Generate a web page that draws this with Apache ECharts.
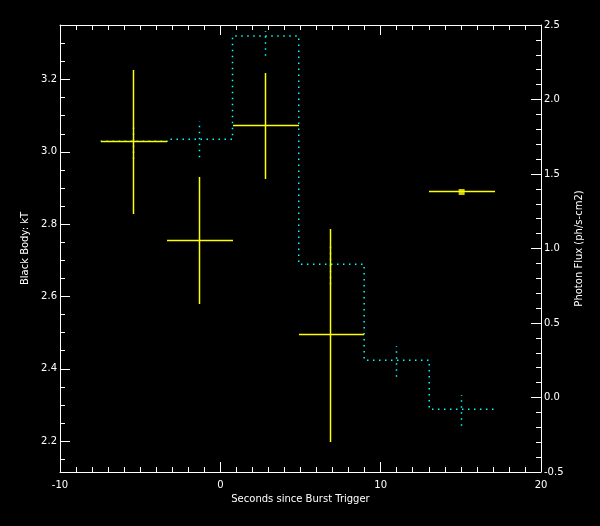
<!DOCTYPE html>
<html>
<head>
<meta charset="utf-8">
<script src="https://cdn.jsdelivr.net/npm/echarts@6/dist/echarts.min.js"></script>
<style>
html,body{margin:0;padding:0;background:#000;}
#chart{width:600px;height:526px;}
</style>
</head>
<body>
<div id="chart"></div>
<script>
// Time bins (seconds since burst trigger)
const binLo = [-7.47, -3.30, 0.76, 4.89, 8.97, 13.03];
const binHi = [-3.30, 0.76, 4.89, 8.97, 13.03, 17.14];
const binCenter = [-5.39, -1.30, 2.80, 6.86, 11.00, 15.05];

// Black body kT (left axis): per bin; null = not measured
const kT      = [3.029, 2.754, 3.072, 2.494, null, 2.889];
const kTLow   = [2.827, 2.578, 2.924, 2.199, null, 2.889];
const kTHigh  = [3.226, 2.931, 3.218, 2.787, null, 2.889];
const kTSquareIndex = [5];

// Photon flux (right axis)
const flux     = [1.719, 1.733, 2.426, 0.894, 0.250, -0.079];
const fluxLow  = [1.600, 1.613, 2.294, 0.760, 0.140, -0.189];
const fluxHigh = [1.840, 1.856, 2.460, 1.030, 0.346, 0.017];

// Tick values
const xTicks = [-10, 0, 10, 20];
const kTTicks = [2.2, 2.4, 2.6, 2.8, 3.0, 3.2];
const kTMinorTicks = [2.15, 2.25, 2.3, 2.35, 2.45, 2.5, 2.55, 2.65, 2.7, 2.75, 2.85, 2.9, 2.95, 3.05, 3.1, 3.15, 3.25, 3.3, 3.35];
const fluxTicks = [-0.5, 0.0, 0.5, 1.0, 1.5, 2.0, 2.5];

const FONT = 'DejaVu Sans';
const WHITE = '#ffffff';
const YELLOW = '#ffff00';
const CYAN = '#00ffff';

// build data
const kTData = [];
const kTSquares = [];
binCenter.forEach((c, i) => {
  if (kT[i] !== null) {
    kTData.push([c, kT[i], binLo[i], binHi[i], kTLow[i], kTHigh[i]]);
  }
});
kTSquareIndex.forEach(i => kTSquares.push([binCenter[i], kT[i]]));

const stepData = binLo.map((x, i) => [x, flux[i]]);
stepData.push([binHi[binHi.length - 1], flux[flux.length - 1]]);

const fluxErrData = binCenter.map((c, i) => [c, flux[i], fluxLow[i], fluxHigh[i]]);

const chart = echarts.init(document.getElementById('chart'), null, {renderer: 'canvas'});

const axisLineStyle = {show: true, onZero: false, lineStyle: {color: WHITE, width: 1}};
const labelStyle = {color: WHITE, fontFamily: FONT, fontSize: 10};
const crisp = v => Math.round(v - 0.5) + 0.5;

const option = {
  backgroundColor: '#000000',
  animation: false,
  grid: {left: 60, right: 59, top: 25, bottom: 54, show: false},
  xAxis: [
    {
      type: 'value', position: 'bottom', min: -10, max: 20, interval: 10,
      axisLine: axisLineStyle,
      axisTick: {show: true, inside: true, length: 10, lineStyle: {color: WHITE}},
      minorTick: {show: true, splitNumber: 10, length: 5, lineStyle: {color: WHITE}},
      axisLabel: Object.assign({margin: 8, formatter: v => String(v)}, labelStyle),
      splitLine: {show: false},
      name: 'Seconds since Burst Trigger', nameLocation: 'middle', nameGap: 20,
      nameTextStyle: {color: WHITE, fontFamily: FONT, fontSize: 10}
    },
    {
      type: 'value', position: 'top', min: -10, max: 20, interval: 10,
      axisLine: axisLineStyle,
      axisTick: {show: true, inside: true, length: 10, lineStyle: {color: WHITE}},
      minorTick: {show: true, splitNumber: 10, length: 5, lineStyle: {color: WHITE}},
      axisLabel: {show: false},
      splitLine: {show: false}
    }
  ],
  yAxis: [
    {
      type: 'value', position: 'left', min: 2.1147, max: 3.3508,
      axisLine: axisLineStyle,
      axisTick: {show: true, inside: true, length: 10, customValues: kTTicks, lineStyle: {color: WHITE}},
      axisLabel: Object.assign({margin: 3, customValues: kTTicks, formatter: v => v.toFixed(1)}, labelStyle),
      splitLine: {show: false},
      name: 'Black Body: kT', nameLocation: 'middle', nameGap: 22, nameRotate: 90,
      nameTextStyle: {color: WHITE, fontFamily: FONT, fontSize: 10}
    },
    {
      type: 'value', position: 'left', min: 2.1147, max: 3.3508,
      axisLine: {show: false, onZero: false},
      axisTick: {show: true, inside: true, length: 5, customValues: kTMinorTicks, lineStyle: {color: WHITE}},
      axisLabel: {show: false},
      splitLine: {show: false}
    },
    {
      type: 'value', position: 'right', min: -0.5, max: 2.5, interval: 0.5,
      axisLine: axisLineStyle,
      axisTick: {show: true, inside: true, length: 10, lineStyle: {color: WHITE}},
      minorTick: {show: true, splitNumber: 5, length: 5, lineStyle: {color: WHITE}},
      axisLabel: Object.assign({margin: 3, formatter: v => v.toFixed(1)}, labelStyle),
      splitLine: {show: false},
      name: 'Photon Flux (ph/s-cm2)', nameLocation: 'middle', nameGap: 28, nameRotate: 90,
      nameTextStyle: {color: WHITE, fontFamily: FONT, fontSize: 10}
    }
  ],
  series: [
    {
      type: 'line', name: 'flux', xAxisIndex: 0, yAxisIndex: 2,
      data: stepData, step: 'end', symbol: 'none', z: 2,
      lineStyle: {color: CYAN, width: 1.5, type: [1.5, 4.5]}
    },
    {
      type: 'custom', name: 'fluxErr', xAxisIndex: 0, yAxisIndex: 2, z: 2,
      data: fluxErrData,
      renderItem: function (params, api) {
        const x = api.value(0);
        const p1 = api.coord([x, api.value(2)]);
        const p2 = api.coord([x, api.value(3)]);
        const cx = crisp(p1[0]);
        return {
          type: 'line',
          shape: {x1: cx, y1: p1[1], x2: cx, y2: p2[1]},
          style: {stroke: CYAN, lineWidth: 1.5, lineDash: [1.5, 4.5]}
        };
      }
    },
    {
      type: 'custom', name: 'kT', xAxisIndex: 0, yAxisIndex: 0, z: 3,
      data: kTData,
      renderItem: function (params, api) {
        const y = api.value(1);
        const x = api.value(0);
        const h1 = api.coord([api.value(2), y]);
        const h2 = api.coord([api.value(3), y]);
        const v1 = api.coord([x, api.value(4)]);
        const v2 = api.coord([x, api.value(5)]);
        const hy = crisp(h1[1]);
        const vx = crisp(v1[0]);
        return {
          type: 'group',
          children: [
            {type: 'line', shape: {x1: Math.round(h1[0]), y1: hy, x2: Math.round(h2[0]), y2: hy}, style: {stroke: YELLOW, lineWidth: 1.5}},
            {type: 'line', shape: {x1: vx, y1: Math.round(v1[1]), x2: vx, y2: Math.round(v2[1])}, style: {stroke: YELLOW, lineWidth: 1.5}}
          ]
        };
      }
    },
    {
      type: 'scatter', name: 'kTSquare', xAxisIndex: 0, yAxisIndex: 0, z: 4,
      data: kTSquares, symbol: 'rect', symbolSize: 6,
      itemStyle: {color: YELLOW}
    }
  ]
};
chart.setOption(option);
</script>
</body>
</html>
